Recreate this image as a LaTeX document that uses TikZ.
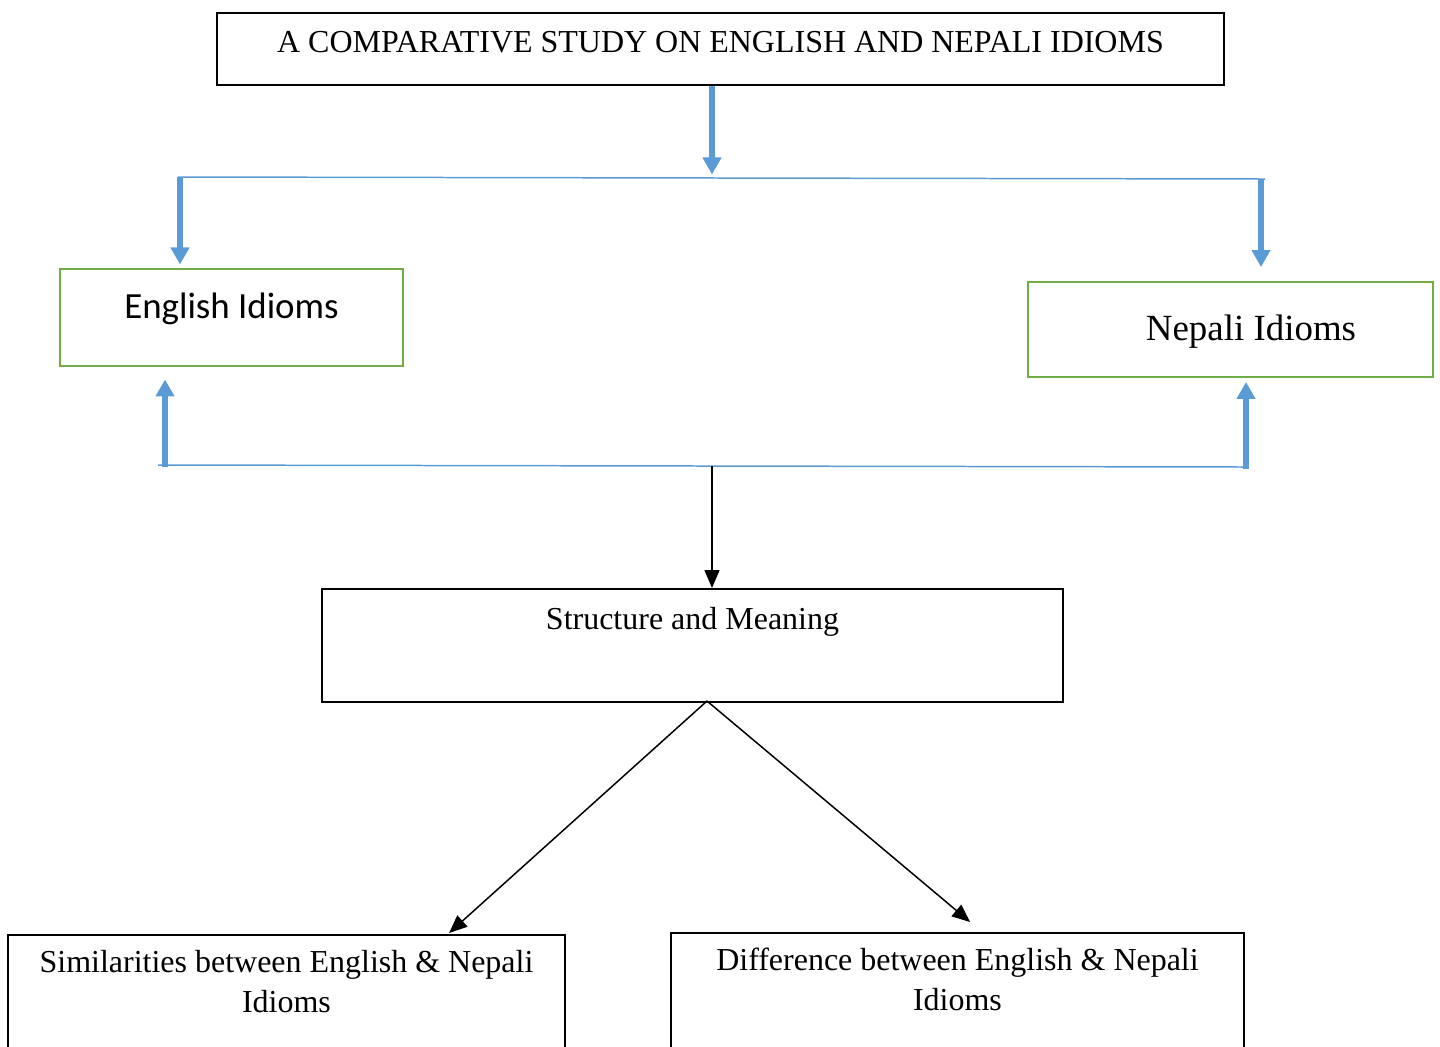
\documentclass[tikz,border=0pt]{standalone}
\usepackage{fontspec}
\setmainfont{Liberation Serif}
\newfontfamily\calibri{Carlito}
\usetikzlibrary{arrows.meta,calc}
\definecolor{wordblue}{HTML}{5B9BD5}
\definecolor{wordgreen}{HTML}{70AD47}

\begin{document}
\begin{tikzpicture}[x=0.02cm,y=-0.02cm,
    box/.style={draw,line width=1.1pt,anchor=north,inner sep=0pt,align=center,font=\fontsize{18.2}{22.8}\selectfont},
    green box/.style={draw=wordgreen,line width=1.4pt,anchor=north,inner sep=0pt,align=center},
    blue arrow/.style={wordblue,line width=2.9pt,-{Triangle[width=0.36cm,length=0.34cm]}},
    blue line/.style={wordblue,line width=0.85pt},
    black arrow/.style={line width=0.85pt,-{Triangle[width=0.3cm,length=0.36cm]}}]

    \useasboundingbox (0,0) rectangle (1440,1046);
    \clip (0,0) rectangle (1440,1046);

    % boxes
    \node (title) [box,minimum width=20.14cm,text height=0.8cm,text depth=0.64cm] at (720.5,12)
        {A COMPARATIVE STUDY ON ENGLISH AND NEPALI IDIOMS};
    \node (eng) [green box,minimum width=6.86cm,text height=0.98cm,text depth=0.96cm,font=\calibri\fontsize{21}{25}\selectfont] at (231.5,268)
        {English Idioms};
    \node (nep) [green box,minimum width=8.1cm,text height=1.16cm,text depth=0.74cm,font=\fontsize{21}{25}\selectfont] at (1230.5,281)
        {\hspace*{0.82cm}Nepali Idioms};
    \node (sm) [box,minimum width=14.82cm,text height=0.82cm,text depth=1.44cm] at (692.5,588)
        {Structure and Meaning};
    \node (sim) [box,minimum width=11.14cm,text height=1.56cm,text depth=1.84cm] at (286.5,934)
        {Similarities between English \& Nepali\\Idioms};
    \node (dif) [box,minimum width=11.46cm,text height=1.56cm,text depth=1.82cm] at (957.5,932)
        {Difference between English \& Nepali\\Idioms};

    % junctions
    \coordinate (topA) at (178,177);
    \coordinate (topB) at (1265,179);
    \coordinate (topM) at (712,178);
    \coordinate (topL) at (180,177);
    \coordinate (topR) at (1261,179);
    \coordinate (botA) at (158,465);
    \coordinate (botL) at (165,465);
    \coordinate (botR) at (1246,467);
    \coordinate (botM) at (712,466);
    \coordinate (smb) at (707,701);

    \draw[blue line] (topA) -- (topB);
    \draw[blue line] (botA) -- (botR);

    \draw[blue arrow,shorten >=2pt] (title.south -| topM) -- (topM);
    \draw[blue arrow,shorten >=2pt] (topL) -- (topL |- eng.north);
    \draw[blue arrow,shorten >=0.28cm] (topR) -- (topR |- nep.north);
    \draw[blue arrow,shorten >=0.24cm] ([yshift=-1pt]botL) -- (botL |- eng.south);
    \draw[blue arrow,shorten >=2pt] ([yshift=-1pt]botR) -- (botR |- nep.south);

    \draw[black arrow] (botM) -- (botM |- sm.north);
    \draw[black arrow] (smb) -- ($(sim.north west)+(442,-1)$);
    \draw[black arrow] (smb) -- ($(dif.north west)+(300,-10)$);
\end{tikzpicture}
\end{document}
